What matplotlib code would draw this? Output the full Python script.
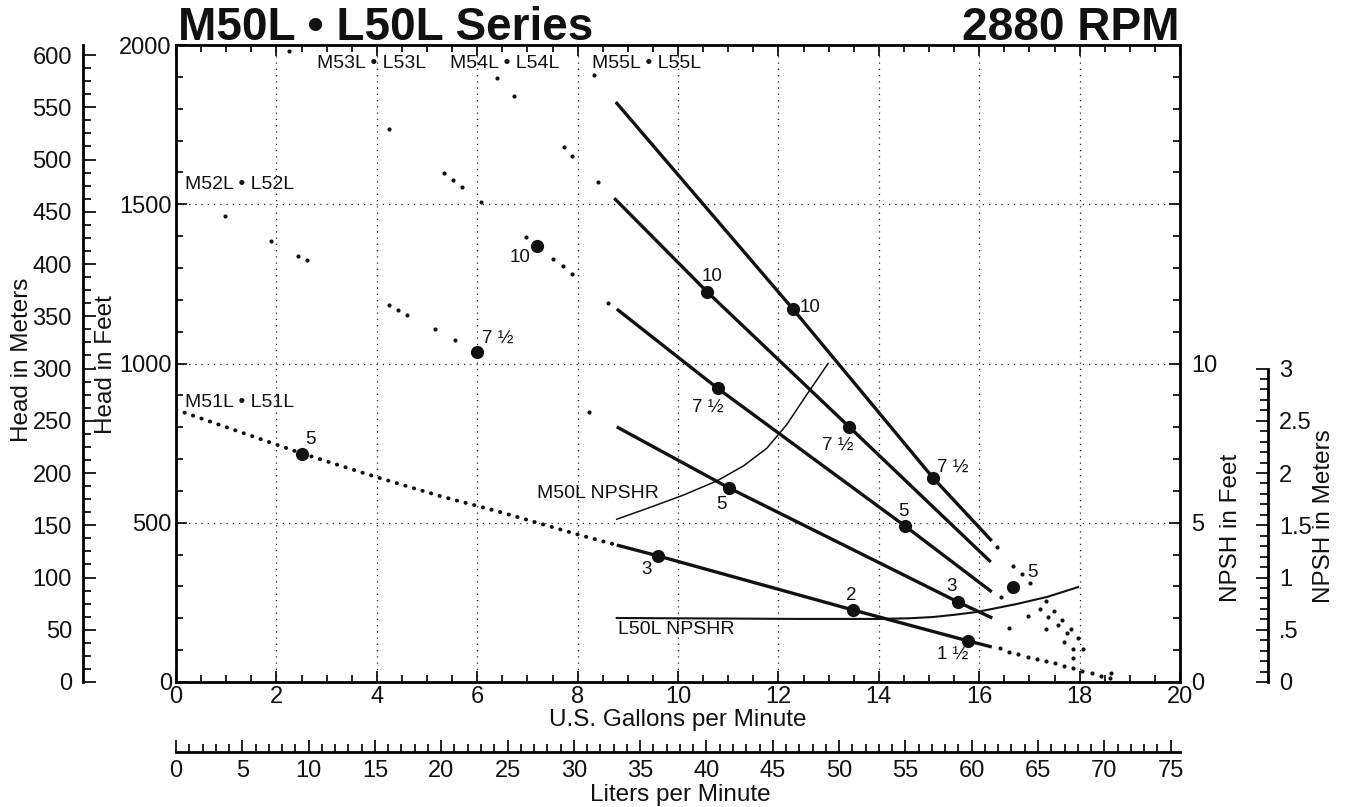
import matplotlib
matplotlib.use('Agg')
import matplotlib.pyplot as plt
from matplotlib.ticker import MultipleLocator, FixedLocator, FixedFormatter

plt.rcParams['font.family'] = ['Liberation Sans', 'DejaVu Sans']

W, H = 1346, 807

# ---------------- data (GPM, head in feet) ----------------
# M51L dotted curve (continues into lowest solid line)
m51_gpm = [0.0, 2.5, 4.0, 5.3, 6.45, 8.05, 8.78]
m51_ft = [855, 718, 643, 582, 534, 461, 430]

# sparse dotted curves of M52L..M55L
m52_gpm = [0.98, 1.89, 2.43, 2.61, 4.24, 4.42, 4.60, 5.16, 5.56, 8.23]
m52_ft = [1463, 1385, 1338, 1325, 1184, 1168, 1152, 1108, 1074, 848]
m53_gpm = [2.25, 4.24, 5.34, 5.52, 5.70, 6.08, 6.97, 7.51, 7.71, 7.89, 8.61]
m53_ft = [1981, 1736, 1598, 1576, 1554, 1507, 1397, 1328, 1306, 1281, 1190]
m54_gpm = [6.39, 6.73, 7.73, 7.89, 8.41]
m54_ft = [1896, 1840, 1680, 1652, 1570]
m55_gpm = [8.33]
m55_ft = [1906]

# solid (L50L) sections
lineA_gpm = [8.76, 12.29, 15.08, 16.25]
lineA_ft = [1821, 1171, 641, 443]
lineB_gpm = [8.73, 10.58, 13.41, 16.23]
lineB_ft = [1519, 1225, 801, 377]
lineC_gpm = [8.78, 10.79, 14.52, 16.25]
lineC_ft = [1171, 922, 490, 283]
lineD_gpm = [8.78, 11.02, 15.58, 16.26]
lineD_ft = [801, 609, 251, 201]
lineE_gpm = [8.78, 9.60, 13.49, 15.78, 16.25]
lineE_ft = [430, 396, 226, 129, 110]

# dotted tails beyond solid sections
tailA_gpm = [16.35, 16.68, 16.85, 17.01, 17.33, 17.49, 17.65, 17.83, 17.97, 18.07]
tailA_ft = [424, 364, 339, 311, 254, 223, 195, 166, 138, 104]
tailB_gpm = [17.21, 17.37, 17.57, 17.75, 17.87]
tailB_ft = [229, 204, 179, 154, 104]
tailC_gpm = [16.44, 16.97, 17.33, 17.69, 17.87]
tailC_ft = [267, 207, 166, 126, 75]
tailD_gpm = [16.59]
tailD_ft = [170]
tailE_gpm = [16.41, 16.59, 16.77, 16.97, 17.15, 17.33, 17.51, 17.69, 17.87,
             18.05, 18.25, 18.43, 18.61, 18.63]
tailE_ft = [107, 94, 88, 79, 72, 66, 59, 50, 44, 35, 28, 19, 13, 28]

# motor hp rating points
hp_gpm = [2.51, 6.00, 7.19, 12.29, 15.08, 10.58, 13.41, 16.68,
          10.79, 14.52, 11.02, 15.58, 9.60, 13.49, 15.78]
hp_ft = [716, 1036, 1369, 1171, 641, 1225, 801, 299,
         922, 490, 609, 251, 396, 226, 129]
hp_labels = ['5', '7 ½', '10', '10', '7 ½', '10', '7 ½', '5',
             '7 ½', '5', '5', '3', '3', '2', '1 ½']
# label offsets (pixels, right / up)
hp_offsets = [(8, 14), (20, 14), (-17, -12), (17, 2), (20, 11), (5, 15),
              (-11, -18), (19, 14), (-10, -19), (-1, 14), (-8, -16),
              (-7, 16), (-11, -14), (-2, 15), (-16, -13)]

# NPSHR curves (GPM, NPSH ft)
m50_npsh_gpm = [8.78, 9.44, 10.11, 10.77, 11.30, 11.77, 12.16, 12.56, 12.99]
m50_npsh_ft = [5.11, 5.48, 5.87, 6.31, 6.78, 7.34, 8.07, 9.01, 10.0]
l50_npsh_gpm = [8.78, 12.43, 13.98, 14.60, 15.08, 15.50, 15.96, 16.75, 17.35, 17.97]
l50_npsh_ft = [2.01, 1.98, 1.98, 2.00, 2.04, 2.11, 2.20, 2.45, 2.67, 2.98]

model_labels = ['M51L • L51L', 'M52L • L52L', 'M53L • L53L', 'M54L • L54L', 'M55L • L55L']
model_label_gpm = [0.18, 0.18, 2.81, 5.46, 8.29]
model_label_ft = [879, 1563, 1943, 1943, 1943]

# ---------------- figure ----------------
fig = plt.figure(figsize=(W / 100, H / 100), dpi=100)
L, R, T, B = 176, 1180, 45, 682
bottom = (H - B) / H
height = (B - T) / H
ax = fig.add_axes([L / W, bottom, (R - L) / W, height])
ax.set_xlim(0, 20)
ax.set_ylim(0, 2000)

SPW = 2.0
for s in ax.spines.values():
    s.set_linewidth(SPW)

ax.xaxis.set_major_locator(MultipleLocator(2))
ax.xaxis.set_minor_locator(MultipleLocator(0.5))
ax.yaxis.set_major_locator(MultipleLocator(500))
ax.yaxis.set_minor_locator(MultipleLocator(100))
ax.tick_params(which='both', direction='in', top=True, right=False, width=1.3,
               labelsize=17, colors='#111111')
ax.tick_params(which='major', length=8)
ax.tick_params(which='minor', length=5)
ax.tick_params(axis='x', pad=3)
ax.tick_params(axis='y', pad=3)
ax.grid(True, which='major', linestyle=(0, (1, 4)), color='#222222', lw=0.9)

K = '#111111'
# M51L dotted
ax.plot(m51_gpm, m51_ft, color=K, lw=2.8, linestyle=(0, (0.1, 2.2)),
        dash_capstyle='round', zorder=3)
for gx, gy in [(m52_gpm, m52_ft), (m53_gpm, m53_ft), (m54_gpm, m54_ft), (m55_gpm, m55_ft),
               (tailA_gpm, tailA_ft), (tailB_gpm, tailB_ft), (tailC_gpm, tailC_ft),
               (tailD_gpm, tailD_ft), (tailE_gpm, tailE_ft)]:
    ax.plot(gx, gy, 'o', color=K, ms=3.0, mew=0, zorder=3)

for gx, gy in [(lineA_gpm, lineA_ft), (lineB_gpm, lineB_ft), (lineC_gpm, lineC_ft),
               (lineD_gpm, lineD_ft), (lineE_gpm, lineE_ft)]:
    ax.plot(gx, gy, color=K, lw=2.4, solid_capstyle='butt', solid_joinstyle='round', zorder=4)

ax.plot(hp_gpm, hp_ft, 'o', color=K, ms=9.5, mew=0, zorder=5)
for x, y, lab, (dx, dy) in zip(hp_gpm, hp_ft, hp_labels, hp_offsets):
    ax.annotate(lab, (x, y), xytext=(dx, dy), textcoords='offset pixels',
                ha='center', va='center', fontsize=13.5, color=K, zorder=6)

for lab, x, y in zip(model_labels, model_label_gpm, model_label_ft):
    ax.text(x, y, lab, ha='left', va='center', fontsize=14, color=K)

# NPSH (right) axis
axr = ax.twinx()
axr.set_ylim(0, 20)
axr.set_position(ax.get_position())
for s in axr.spines.values():
    s.set_visible(False)
axr.yaxis.set_major_locator(FixedLocator([0, 5, 10, 15, 20]))
axr.yaxis.set_major_formatter(FixedFormatter(['0', '5', '10', '', '']))
axr.yaxis.set_minor_locator(MultipleLocator(1))
axr.tick_params(which='both', direction='in', width=1.3, labelsize=17, pad=8, colors=K)
axr.tick_params(which='major', length=8)
axr.tick_params(which='minor', length=5)
axr.plot(m50_npsh_gpm, m50_npsh_ft, color=K, lw=1.1, solid_joinstyle='round')
axr.plot(l50_npsh_gpm, l50_npsh_ft, color=K, lw=1.5, solid_joinstyle='round')
axr.text(7.19, 5.93, 'M50L NPSHR', ha='left', va='center', fontsize=14, color=K)
axr.text(8.80, 1.66, 'L50L NPSHR', ha='left', va='center', fontsize=14, color=K)

# Head in meters axis (left)
axm = fig.add_axes([83 / W, bottom, 0.01, height])
axm.patch.set_visible(False)
for k in ['right', 'top', 'bottom']:
    axm.spines[k].set_visible(False)
axm.spines['left'].set_linewidth(SPW)
axm.set_xticks([])
axm.set_ylim(0, 2000 * 0.3048)
axm.yaxis.set_major_locator(MultipleLocator(50))
axm.yaxis.set_minor_locator(MultipleLocator(12.5))
axm.tick_params(which='both', direction='in', width=1.3, labelsize=17, pad=8, colors=K)
axm.tick_params(which='major', length=9)
axm.tick_params(which='minor', length=6)

# NPSH in meters axis (right)
axn = fig.add_axes([(1268 - 10) / W, bottom, 10 / W, height])
axn.patch.set_visible(False)
for k in ['left', 'top', 'bottom']:
    axn.spines[k].set_visible(False)
axn.spines['right'].set_linewidth(SPW)
axn.set_ylim(0, 20 / 3.28084)
axn.spines['right'].set_bounds(0, 3)
axn.set_xticks([])
axn.yaxis.tick_right()
axn.yaxis.set_major_locator(FixedLocator([0, 0.5, 1, 1.5, 2, 2.5, 3]))
axn.yaxis.set_major_formatter(FixedFormatter(['0', '.5', '1', '1.5', '2', '2.5', '3']))
axn.yaxis.set_minor_locator(FixedLocator([i / 10 for i in range(31)]))
axn.tick_params(which='both', direction='in', width=1.3, labelsize=17, pad=8, colors=K)
axn.tick_params(which='major', length=9)
axn.tick_params(which='minor', length=6)

# Liters per minute axis (bottom)
axl = fig.add_axes([L / W, (H - 752) / H, (R - L) / W, 0.01])
axl.patch.set_visible(False)
for k in ['left', 'right', 'top']:
    axl.spines[k].set_visible(False)
axl.spines['bottom'].set_linewidth(SPW)
axl.set_yticks([])
axl.set_xlim(0, 20 * 3.78541)
axl.xaxis.set_major_locator(MultipleLocator(5))
axl.xaxis.set_minor_locator(MultipleLocator(1))
axl.tick_params(which='both', direction='in', width=1.3, labelsize=17, pad=6, colors=K)
axl.tick_params(which='major', length=9)
axl.tick_params(which='minor', length=6)

# axis titles
def ftext(px, py, s, **kw):
    fig.text(px / W, 1 - py / H, s, color=K, **kw)

ftext(678, 720, 'U.S. Gallons per Minute', ha='center', va='center', fontsize=17.5)
ftext(680, 795, 'Liters per Minute', ha='center', va='center', fontsize=17.5)
ftext(22, 360, 'Head in Meters', ha='center', va='center', rotation=90, fontsize=17.5)
ftext(106, 365, 'Head in Feet', ha='center', va='center', rotation=90, fontsize=17.5)
ftext(1231, 528, 'NPSH in Feet', ha='center', va='center', rotation=90, fontsize=17.5)
ftext(1324, 516, 'NPSH in Meters', ha='center', va='center', rotation=90, fontsize=17.5)

ftext(178, 40, 'M50L • L50L Series', ha='left', va='baseline', fontsize=33, fontweight='bold')
ftext(1180, 40, '2880 RPM', ha='right', va='baseline', fontsize=33, fontweight='bold')

fig.savefig('out.png', dpi=100)
